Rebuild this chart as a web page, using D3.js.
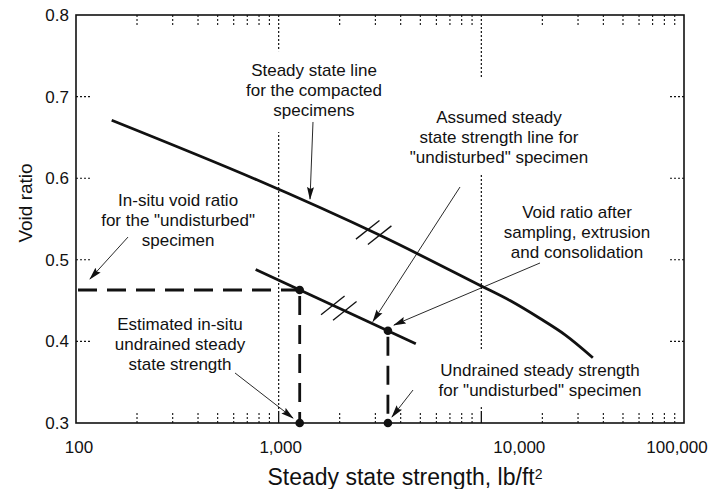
<!DOCTYPE html>
<html><head><meta charset="utf-8">
<script src="https://cdn.jsdelivr.net/npm/d3@7"></script>
<style>
body{margin:0;background:#fff;}
text{font-family:"Liberation Sans",Arial,Helvetica,sans-serif;fill:#111;}
</style>
</head><body>
<svg id="chart" width="710" height="489"></svg>
<script>
// ---------- data ----------
const xTickValues = [100, 1000, 10000, 100000];
const xTickLabels = ["100", "1,000", "10,000", "100,000"];
const xMinorTicks = [200,300,400,500,600,700,800,900,2000,3000,4000,5000,6000,7000,8000,9000,20000,30000,40000,50000,60000,70000,80000,90000];
const yTickValues = [0.3, 0.4, 0.5, 0.6, 0.7, 0.8];
const yTickLabels = ["0.3", "0.4", "0.5", "0.6", "0.7", "0.8"];
const gridStrengths = [1000, 10000];

const compactedStrength = [150, 780, 3160, 9600, 13850, 19500, 25900, 35500];
const compactedVoid     = [0.671, 0.598, 0.530, 0.470, 0.450, 0.428, 0.408, 0.380];

const undisturbedStrength = [770, 4750];
const undisturbedVoid     = [0.488, 0.397];

const pointStrength = [1270, 3460];
const pointVoid     = [0.463, 0.413];

const hashUpperStrength = [2750, 3150];
const hashLowerStrength = [1850, 2120];

const xTitle = "Steady state strength, lb/ft";
const xTitleSup = "2";
const yTitle = "Void ratio";

const annotationText = [
  ["Steady state line", "for the compacted", "specimens"],
  ["Assumed steady", "state strength line for", "\"undisturbed\" specimen"],
  ["In-situ void ratio", "for the \"undisturbed\"", "specimen"],
  ["Estimated in-situ", "undrained steady", "state strength"],
  ["Void ratio after", "sampling, extrusion", "and consolidation"],
  ["Undrained steady strength", "for \"undisturbed\" specimen"]
];
// anchor of first text line (strength, void ratio)
const annotationStrength = [1494, 12220, 319, 326, 29650, 19480];
const annotationVoid     = [0.7326, 0.675, 0.5733, 0.4213, 0.5586, 0.365];
// arrows: from (strength, void) to (strength, void)
const arrowFromStrength = [1477, 7848, 180.6, 609, 19480, 4601];
const arrowFromVoid     = [0.6689, 0.5892, 0.5279, 0.3613, 0.4961, 0.3404];
const arrowToStrength   = [1428, 2920, 117.2, 1177, 3707, 3624];
const arrowToVoid       = [0.5745, 0.4245, 0.4765, 0.3061, 0.4201, 0.3074];

// ---------- layout ----------
const L = 76, R = 684, T = 15, B = 423;
const svg = d3.select("#chart");
const x = d3.scaleLog().domain([100, 100000]).range([L, R]);
const y = d3.scaleLinear().domain([0.3, 0.8]).range([B, T]);

svg.append("defs").append("marker")
  .attr("id", "arrow").attr("markerUnits", "userSpaceOnUse")
  .attr("markerWidth", 13).attr("markerHeight", 8)
  .attr("refX", 12).attr("refY", 4).attr("orient", "auto")
  .append("path").attr("d", "M0,0.5 L13,4 L0,7.5 L2,4 Z").attr("fill", "#111");

// gridlines (dotted)
svg.append("g").selectAll("line").data(gridStrengths).join("line")
  .attr("x1", d => x(d)).attr("x2", d => x(d))
  .attr("y1", T).attr("y2", B - 12)
  .attr("stroke", "#111").attr("stroke-width", 1.2).attr("stroke-dasharray", "2,2");

// minor ticks top & bottom
const minor = svg.append("g").attr("stroke", "#111").attr("stroke-width", 1.1).attr("stroke-dasharray", "2,2");
minor.selectAll("line.b").data(xMinorTicks).join("line").attr("class", "b")
  .attr("x1", d => x(d)).attr("x2", d => x(d)).attr("y1", B).attr("y2", B - 12);
minor.selectAll("line.t").data(xMinorTicks).join("line").attr("class", "t")
  .attr("x1", d => x(d)).attr("x2", d => x(d)).attr("y1", T).attr("y2", T + 12);
// y ticks left & right
const yInner = yTickValues.filter(v => v > 0.3 && v < 0.8);
minor.selectAll("line.l").data(yInner).join("line").attr("class", "l")
  .attr("x1", L).attr("x2", L + 16).attr("y1", d => y(d)).attr("y2", d => y(d));
minor.selectAll("line.r").data(yInner).join("line").attr("class", "r")
  .attr("x1", R).attr("x2", R - 16).attr("y1", d => y(d)).attr("y2", d => y(d));
// major bottom ticks (solid)
svg.append("g").selectAll("line").data(gridStrengths).join("line")
  .attr("x1", d => x(d)).attr("x2", d => x(d)).attr("y1", B).attr("y2", B - 12)
  .attr("stroke", "#111").attr("stroke-width", 1.3);

// annotation text + white masks
const lineGap = 20;
const maskPad = [[10, 12], [30, 6], [4, 4], [4, 4], [4, 4], [12, 7]];
const annG = svg.append("g");
const maskG = annG.append("g");
const textG = annG.append("g");
annotationText.forEach((lines, i) => {
  const t = textG.append("text")
    .attr("x", x(annotationStrength[i])).attr("y", y(annotationVoid[i]))
    .attr("text-anchor", "middle").attr("font-size", 17);
  lines.forEach((s, j) => {
    t.append("tspan").attr("x", x(annotationStrength[i]))
      .attr("dy", j === 0 ? "0.36em" : lineGap).text(s);
  });
  const bb = t.node().getBBox();
  maskG.append("rect").attr("x", bb.x - 3).attr("width", bb.width + 6)
    .attr("y", bb.y - maskPad[i][0]).attr("height", bb.height + maskPad[i][0] + maskPad[i][1])
    .attr("fill", "#fff");
});

// frame
svg.append("rect").attr("x", L).attr("y", T).attr("width", R - L).attr("height", B - T)
  .attr("fill", "none").attr("stroke", "#111").attr("stroke-width", 1.6);

// compacted steady state line
const compacted = compactedStrength.map((s, i) => [s, compactedVoid[i]]);
svg.append("path").datum(compacted)
  .attr("d", d3.line().x(d => x(d[0])).y(d => y(d[1])).curve(d3.curveCatmullRom.alpha(0.5)))
  .attr("fill", "none").attr("stroke", "#111").attr("stroke-width", 2.8);

// undisturbed line
const undisturbed = undisturbedStrength.map((s, i) => [s, undisturbedVoid[i]]);
svg.append("path").datum(undisturbed)
  .attr("d", d3.line().x(d => x(d[0])).y(d => y(d[1])))
  .attr("fill", "none").attr("stroke", "#111").attr("stroke-width", 2.8);

// interpolation helper (log-x linear)
function interp(xs, ys, v) {
  const lv = Math.log10(v);
  for (let i = 0; i < xs.length - 1; i++) {
    const a = Math.log10(xs[i]), b = Math.log10(xs[i + 1]);
    if (lv >= a && lv <= b) return ys[i] + (ys[i + 1] - ys[i]) * (lv - a) / (b - a);
  }
  return ys[ys.length - 1];
}
// hash marks
const hx = 24, hy = -19, hl = Math.hypot(hx, hy), half = 15;
function hashes(strengths, xs, ys) {
  svg.append("g").selectAll("line").data(strengths).join("line")
    .attr("x1", d => x(d) - hx / hl * half).attr("y1", d => y(interp(xs, ys, d)) - hy / hl * half)
    .attr("x2", d => x(d) + hx / hl * half).attr("y2", d => y(interp(xs, ys, d)) + hy / hl * half)
    .attr("stroke", "#111").attr("stroke-width", 1.3);
}
hashes(hashUpperStrength, compactedStrength, compactedVoid);
hashes(hashLowerStrength, undisturbedStrength, undisturbedVoid);

// dashed construction lines
const dash = svg.append("g").attr("stroke", "#111").attr("stroke-width", 2.8)
  .attr("stroke-dasharray", "19,10").attr("fill", "none");
dash.append("line").attr("x1", x(100) + 2).attr("x2", x(pointStrength[0]))
  .attr("y1", y(pointVoid[0])).attr("y2", y(pointVoid[0]));
pointStrength.forEach((s, i) => {
  dash.append("line").attr("x1", x(s)).attr("x2", x(s))
    .attr("y1", y(pointVoid[i]) + 6).attr("y2", y(0.3));
});

// points
const pts = pointStrength.map((s, i) => [s, pointVoid[i]])
  .concat(pointStrength.map(s => [s, 0.3]));
svg.append("g").selectAll("circle").data(pts).join("circle")
  .attr("cx", d => x(d[0])).attr("cy", d => y(d[1])).attr("r", 4.3).attr("fill", "#111");

// arrows
svg.append("g").selectAll("line").data(arrowFromStrength).join("line")
  .attr("x1", (d, i) => x(d)).attr("y1", (d, i) => y(arrowFromVoid[i]))
  .attr("x2", (d, i) => x(arrowToStrength[i])).attr("y2", (d, i) => y(arrowToVoid[i]))
  .attr("stroke", "#111").attr("stroke-width", 0.9).attr("marker-end", "url(#arrow)");

// axis tick labels
svg.append("g").selectAll("text").data(xTickValues).join("text")
  .attr("x", (d, i) => x(d) + (i === 0 ? 3 : i === 2 ? 38 : i === 3 ? -7 : 2))
  .attr("y", B + 24).attr("dy", "0.35em").attr("text-anchor", "middle")
  .attr("font-size", 17).text((d, i) => xTickLabels[i]);
svg.append("g").selectAll("text").data(yTickValues).join("text")
  .attr("x", L - 7).attr("y", d => y(d)).attr("dy", "0.35em").attr("text-anchor", "end")
  .attr("font-size", 17).text((d, i) => yTickLabels[i]);

// axis titles
const xt = svg.append("text").attr("x", 405).attr("y", 477).attr("dy", "0.35em")
  .attr("text-anchor", "middle").attr("font-size", 23);
xt.append("tspan").text(xTitle);
xt.append("tspan").attr("dy", "-0.45em").attr("font-size", 14).text(xTitleSup);
svg.append("text").attr("transform", `translate(25,${(T + B) / 2 - 16}) rotate(-90)`)
  .attr("dy", "0.35em").attr("text-anchor", "middle").attr("font-size", 19).text(yTitle);
</script>
</body></html>
